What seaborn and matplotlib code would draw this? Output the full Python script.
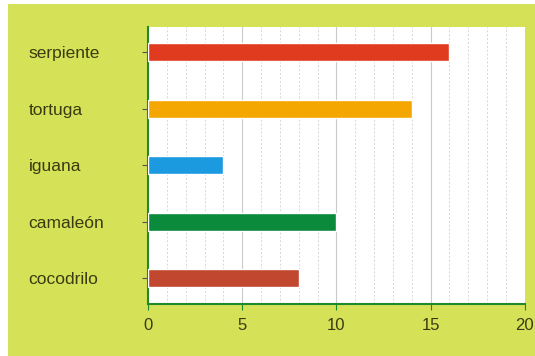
import matplotlib
matplotlib.use("Agg")
import matplotlib.pyplot as plt
import seaborn as sns
import pandas as pd
from matplotlib.ticker import MultipleLocator
from matplotlib.patches import Rectangle

animals = ["serpiente", "tortuga", "iguana", "camaleón", "cocodrilo"]
values = [16, 14, 4, 10, 8]
colors = ["#e13b1f", "#f4a700", "#1b9ae0", "#0b8a3c", "#c1472f"]
xticks = [0, 5, 10, 15, 20]

sns.set_theme(style="white")
plt.rcParams["font.family"] = ["Liberation Sans", "DejaVu Sans"]

bg = "#d5e257"
fig = plt.figure(figsize=(5.35, 3.56), dpi=100)
fig.patch.set_facecolor("white")
fig.patches.append(Rectangle((0.015, 0.0), 0.985, 0.99, transform=fig.transFigure,
                             facecolor=bg, edgecolor="none", zorder=-10))
ax = fig.add_axes([0.2766, 0.146, 0.7044, 0.778])
ax.set_facecolor("white")

df = pd.DataFrame({"animal": animals, "valor": values})
sns.barplot(data=df, y="animal", x="valor", hue="animal", palette=colors,
            order=animals, orient="h", width=0.32, legend=False, ax=ax,
            saturation=1, zorder=3)

ax.set_xlim(0, 20)
ax.set_ylim(4.46, -0.45)
ax.set_xticks(xticks)
ax.grid(False)
for v in range(1, 20):
    if v % 5 == 0:
        ax.axvline(v, color="#c9c9c9", lw=0.8, ls="-", zorder=1)
    else:
        ax.axvline(v, color="#d6d6d6", lw=0.7, ls=(0, (2, 2)), zorder=1)

ax.set_xlabel("")
ax.set_ylabel("")
for s in ["top", "right"]:
    ax.spines[s].set_visible(False)
for s in ["left", "bottom"]:
    ax.spines[s].set_color("#1f8a2a")
    ax.spines[s].set_linewidth(1.5)

ax.tick_params(axis="y", which="major", left=True, length=4, width=0.8,
               color="#555555", labelsize=12.5, labelcolor="#3b3b12", pad=82)
for lab in ax.get_yticklabels():
    lab.set_horizontalalignment("left")
ax.tick_params(axis="x", which="major", bottom=True, length=4, width=0.8,
               color="#1f8a2a", labelsize=12, labelcolor="#3b3b12", pad=6)

fig.savefig("out.png", dpi=100, facecolor=fig.get_facecolor())
